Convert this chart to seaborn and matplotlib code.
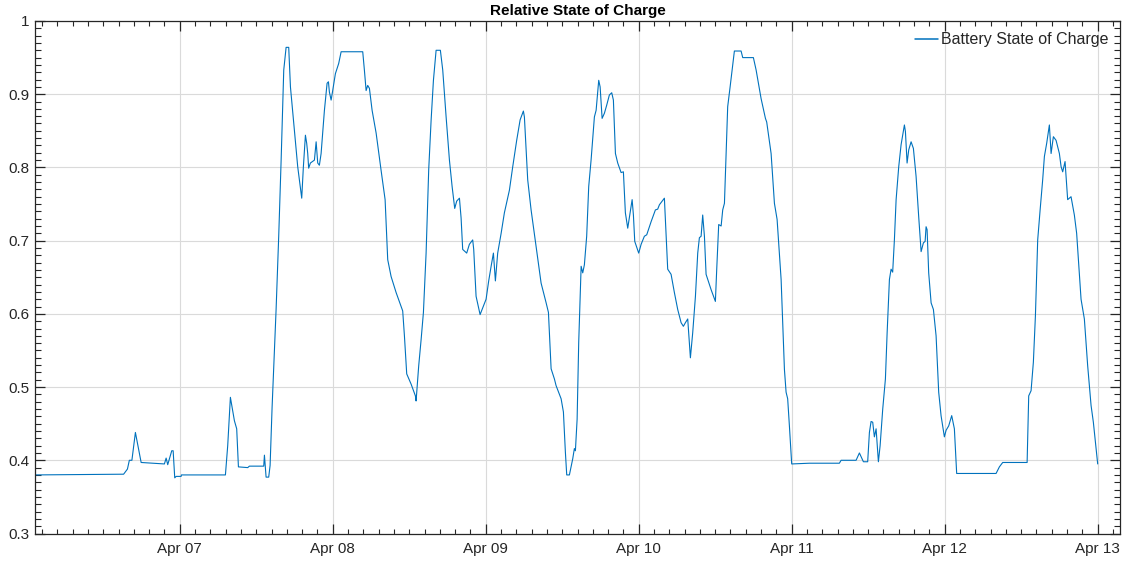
import numpy as np
import pandas as pd
import matplotlib
matplotlib.use("Agg")
import matplotlib.pyplot as plt
import matplotlib.dates as mdates
from matplotlib.ticker import MultipleLocator
import seaborn as sns

# hours since Apr 06 00:00
hours = [1.2, 15.2, 15.8, 16.1, 16.5, 17.05, 17.95, 21.6, 21.87, 22.12, 22.75, 22.97, 23.22, 23.44, 24.22, 24.27,
         31.17, 31.53, 31.95, 32.58, 32.94, 33.21, 34.67, 34.93, 37.18, 37.29, 37.55, 37.96, 38.18, 38.49,
         39.12, 39.53, 39.91, 40.32, 40.69, 41.10, 41.37, 41.99, 42.51, 43.14, 43.40, 43.72, 43.92, 44.08,
         44.23, 44.50, 45.13, 45.40, 45.65, 45.91, 46.18, 46.70, 47.12, 47.33, 47.48, 47.75, 48.00, 48.42,
         48.94, 49.32, 52.71, 52.97, 53.24, 53.49, 53.76, 54.18, 54.81, 55.59, 56.22, 56.63, 57.16, 57.95,
         58.98, 59.25, 59.61, 60.30, 60.97, 61.08, 61.49, 61.87, 62.23, 62.65, 63.06, 63.44, 63.80, 64.22,
         64.89, 65.26, 65.79, 66.31, 66.73, 67.14, 67.45, 67.88, 68.14, 68.39, 69.02, 69.44, 69.96, 70.12,
         70.49, 71.12, 72.06, 72.47, 72.85, 73.21, 73.52, 73.88, 74.42, 74.93, 75.72, 76.24, 76.86, 77.40,
         77.91, 78.07, 78.59, 79.12, 79.91, 80.69, 81.48, 81.84, 82.26, 82.78, 83.04, 83.83, 84.19, 84.50,
         84.71, 85.13, 85.65, 85.91, 86.07, 86.34, 86.59, 86.97, 87.22, 87.48, 87.84, 88.16, 88.53, 89.05,
         89.32, 89.73, 89.95, 90.26, 90.62, 90.98, 91.40, 91.77, 92.03, 92.35, 92.71, 93.24, 93.60, 93.91,
         94.28, 94.65, 94.97, 95.17, 95.38, 96.00, 96.38, 96.89, 97.26, 97.95, 98.62, 98.98, 99.25, 100.03,
         100.19, 100.55, 101.08, 101.60, 102.12, 102.65, 103.01, 103.33, 103.69, 103.84, 104.11, 104.47,
         104.90, 105.26, 105.52, 105.79, 106.04, 106.31, 106.57, 107.36, 108.03, 108.24, 108.55, 108.93,
         109.18, 109.45, 109.71, 109.96, 110.34, 111.01, 112.06, 112.32, 113.99, 114.42, 115.20, 115.88,
         116.08, 116.77, 117.29, 117.71, 118.34, 118.86, 119.12, 119.37, 119.64, 120.00, 122.78, 127.48,
         127.75, 130.10, 130.62, 131.25, 131.92, 132.19, 132.45, 132.71, 132.97, 133.24, 133.60, 133.87,
         134.28, 134.70, 134.97, 135.33, 135.59, 135.84, 136.11, 136.38, 136.79, 137.16, 137.68, 137.84,
         138.10, 138.36, 138.73, 139.09, 139.51, 139.92, 140.30, 140.66, 140.93, 141.08, 141.24, 141.49,
         141.87, 142.23, 142.65, 143.06, 143.43, 143.95, 144.22, 144.63, 145.10, 145.52, 145.88, 152.06,
         152.58, 153.10, 156.93, 157.18, 157.55, 157.91, 158.23, 158.59, 158.97, 159.37, 159.64, 160.00,
         160.42, 160.69, 161.05, 161.47, 161.99, 162.26, 162.51, 162.88, 163.29, 163.82, 164.34, 164.70,
         165.39, 165.91, 166.43, 166.96, 167.32, 168.00]

soc = [0.380, 0.381, 0.388, 0.400, 0.400, 0.438, 0.397, 0.395, 0.403, 0.394, 0.413, 0.413, 0.376, 0.378, 0.378, 0.380,
       0.380, 0.420, 0.486, 0.454, 0.443, 0.391, 0.390, 0.392, 0.392, 0.407, 0.377, 0.377, 0.393, 0.472,
       0.606, 0.706, 0.810, 0.933, 0.964, 0.964, 0.910, 0.851, 0.801, 0.758, 0.801, 0.844, 0.833, 0.819,
       0.799, 0.806, 0.810, 0.835, 0.806, 0.803, 0.819, 0.878, 0.915, 0.917, 0.903, 0.892, 0.905, 0.928,
       0.942, 0.958, 0.958, 0.933, 0.905, 0.912, 0.908, 0.878, 0.847, 0.796, 0.756, 0.674, 0.651, 0.629,
       0.604, 0.570, 0.518, 0.504, 0.488, 0.481, 0.529, 0.565, 0.602, 0.683, 0.797, 0.865, 0.919, 0.960,
       0.960, 0.933, 0.869, 0.810, 0.774, 0.744, 0.754, 0.758, 0.731, 0.688, 0.683, 0.695, 0.701, 0.688,
       0.624, 0.599, 0.620, 0.645, 0.665, 0.683, 0.645, 0.683, 0.710, 0.738, 0.769, 0.801, 0.837, 0.865,
       0.877, 0.869, 0.783, 0.742, 0.692, 0.642, 0.615, 0.602, 0.525, 0.511, 0.502, 0.484, 0.466, 0.411,
       0.380, 0.380, 0.402, 0.416, 0.413, 0.456, 0.561, 0.665, 0.656, 0.667, 0.706, 0.774, 0.810, 0.869,
       0.878, 0.919, 0.910, 0.867, 0.874, 0.885, 0.899, 0.902, 0.892, 0.819, 0.806, 0.793, 0.794, 0.738,
       0.717, 0.738, 0.756, 0.735, 0.699, 0.683, 0.695, 0.706, 0.708, 0.726, 0.742, 0.743, 0.749, 0.758,
       0.729, 0.661, 0.654, 0.629, 0.606, 0.588, 0.583, 0.588, 0.593, 0.574, 0.540, 0.574,
       0.624, 0.683, 0.704, 0.706, 0.735, 0.706, 0.654, 0.633, 0.617, 0.661, 0.722, 0.720,
       0.742, 0.751, 0.819, 0.883, 0.910, 0.959, 0.959, 0.950, 0.950, 0.933, 0.894, 0.867,
       0.862, 0.819, 0.751, 0.729, 0.647, 0.524, 0.493, 0.484, 0.447, 0.395, 0.396, 0.396,
       0.400, 0.400, 0.410, 0.398, 0.398, 0.438, 0.453, 0.452, 0.432, 0.443, 0.398, 0.420,
       0.470, 0.511, 0.574, 0.647, 0.661, 0.657, 0.701, 0.756, 0.801, 0.831, 0.858, 0.849,
       0.806, 0.824, 0.835, 0.826, 0.788, 0.733, 0.685, 0.697, 0.699, 0.719, 0.715, 0.656,
       0.615, 0.606, 0.570, 0.493, 0.461, 0.432, 0.441, 0.447, 0.461, 0.443, 0.382, 0.382,
       0.391, 0.397, 0.397, 0.488, 0.495, 0.534, 0.597, 0.701, 0.742, 0.783, 0.815, 0.833,
       0.858, 0.819, 0.842, 0.837, 0.819, 0.801, 0.794, 0.808, 0.756, 0.760, 0.735, 0.710,
       0.620, 0.593, 0.529, 0.475, 0.452, 0.395]

yticks = [0.3, 0.4, 0.5, 0.6, 0.7, 0.8, 0.9, 1.0]
ytick_labels = ["0.3", "0.4", "0.5", "0.6", "0.7", "0.8", "0.9", "1"]
series_name = "Battery State of Charge"
title = "Relative State of Charge"

start = pd.Timestamp("2023-04-06 00:00")
df = pd.DataFrame({
    "time": [start + pd.Timedelta(hours=h) for h in hours],
    "soc": soc,
})

sns.set_theme(style="ticks")
plt.rcParams["font.family"] = ["Liberation Sans", "DejaVu Sans"]

fig = plt.figure(figsize=(11.23, 5.62), dpi=100)
ax = fig.add_axes([35 / 1123, 1 - 533.5 / 562, 1085 / 1123, 512.5 / 562])

sns.lineplot(data=df, x="time", y="soc", ax=ax, color="#0072BD", linewidth=0.8,
             label=series_name, estimator=None, sort=False)

ax.set_xlim(start + pd.Timedelta(hours=1.3), start + pd.Timedelta(hours=171.5))
ax.set_ylim(0.3, 1.0)

ax.xaxis.set_major_locator(mdates.DayLocator(bymonthday=range(7, 14)))
ax.xaxis.set_major_formatter(mdates.DateFormatter("%b %d"))
ax.xaxis.set_minor_locator(MultipleLocator(0.1))
ax.set_yticks(yticks)
ax.set_yticklabels(ytick_labels)
ax.yaxis.set_minor_locator(MultipleLocator(0.01))

ax.set_xlabel("")
ax.set_ylabel("")
ax.set_title(title, fontsize=11, fontweight="bold", color="black", pad=4)

ax.grid(True, which="major", color="#DADADA", linewidth=0.8)
for s in ax.spines.values():
    s.set_visible(True)
    s.set_color("#262626")
    s.set_linewidth(0.9)

ax.tick_params(which="both", direction="in", top=True, right=True, color="#262626",
               labelcolor="#262626", labelsize=11)
ax.tick_params(which="major", length=7.5, width=0.9)
ax.tick_params(axis="x", which="major", pad=6)
ax.tick_params(axis="y", which="major", pad=4)
ax.tick_params(which="minor", length=3.8, width=0.8)
ax.tick_params(axis="y", which="minor", length=4.5)

leg = ax.legend(loc="upper right", frameon=False, fontsize=11.5, handlelength=1.45,
                handletextpad=0.2, borderaxespad=0.3)
for line in leg.get_lines():
    line.set_linewidth(1.1)

fig.savefig("out.png", dpi=100)
